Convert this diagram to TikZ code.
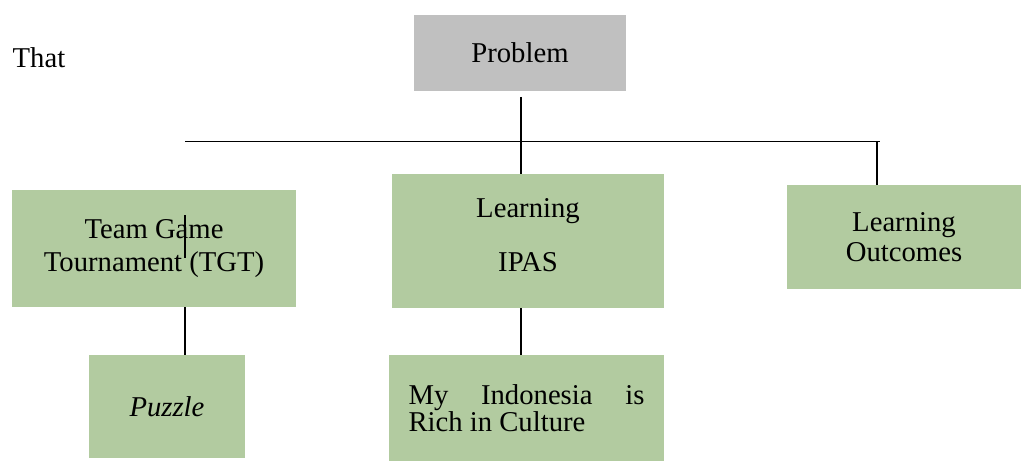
\documentclass[tikz,border=0pt]{standalone}
\usepackage{fontspec}
\setmainfont{Liberation Serif}
\usetikzlibrary{positioning}

\definecolor{boxgreen}{RGB}{178,203,160}
\definecolor{boxgrey}{RGB}{192,192,192}

\tikzset{
	box/.style = {fill = boxgreen, inner sep = 0pt, align = center},
	topbox/.style = {box, fill = boxgrey},
	link/.style = {line width = 1pt}
}

\begin{document}
\begin{tikzpicture}[x = 0.025cm, y = -0.025cm, font = \fontsize{20.4}{23}\selectfont]

	\useasboundingbox (0, 0) rectangle (1025, 462);

	% Top of the tree
	
	\node (that) at (39, 58) {That};
	\node [topbox, minimum width = 212*0.025cm, minimum height = 76*0.025cm] (problem) at (520, 53) {Problem};
	
	% Second row
	
	\node [box, minimum width = 284*0.025cm, minimum height = 117*0.025cm] (tgt) at (154, 248.5) {Team Game\\Tournament (TGT)};
	\node [box, minimum width = 272*0.025cm, minimum height = 134*0.025cm, text depth = 0.9em] (ipas) at (528, 241) {Learning\\[0.75em]IPAS};
	\node [box, minimum width = 234*0.025cm, minimum height = 104*0.025cm] (outcomes) at (904, 237) {Learning\\[-0.1em]Outcomes};
	
	% Third row
	
	\node [box, minimum width = 156*0.025cm, minimum height = 103*0.025cm, font = \fontsize{20.4}{23}\selectfont\itshape] (puzzle) at (167, 406.5) {Puzzle};
	\node [box, minimum width = 275*0.025cm, minimum height = 106*0.025cm, text width = 236*0.025cm, align = justify, font = \fontsize{20.4}{17}\selectfont] (culture) at (526.5, 408) {My Indonesia is Rich in Culture};
	
	% Bus and stubs
	
	\coordinate (busL) at (185, 141.5);
	\coordinate (busR) at (880, 141.5);
	\coordinate (stubR) at (877, 141.5);
	\coordinate (trunk) at (521, 141.5);
	
	\begin{scope}[link]
	
		\draw (busL) -- (busR);
		\draw [shorten <= 4pt] (problem.south -| trunk) -- (ipas.north -| trunk);
		\draw (stubR) -- (stubR |- outcomes.north);
		
		\draw (185, 215) -- (185, 258);
		\draw (tgt.south -| busL) -- (puzzle.north -| busL);
		\draw (ipas.south -| trunk) -- (culture.north -| trunk);
	
	\end{scope}

\end{tikzpicture}
\end{document}
